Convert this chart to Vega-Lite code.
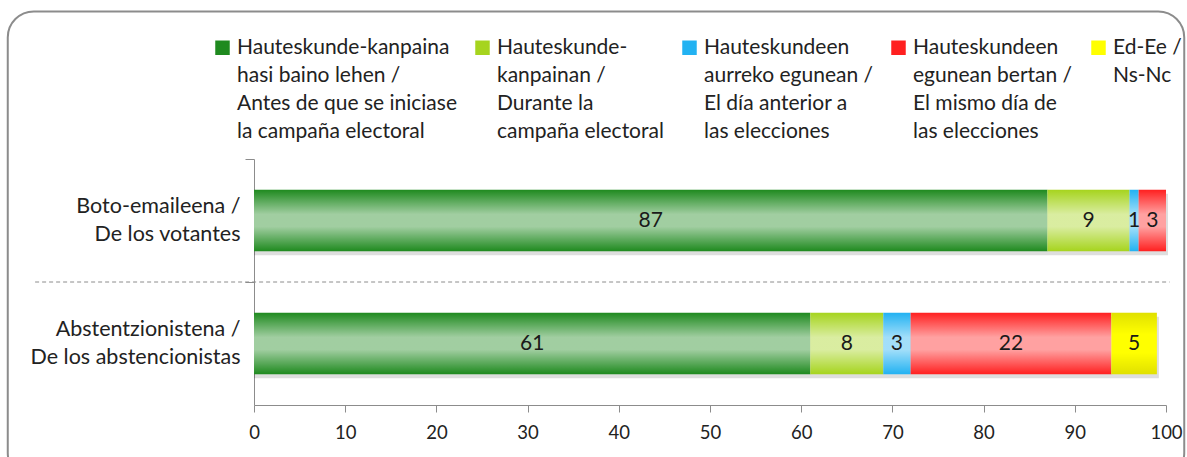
{
  "$schema": "https://vega.github.io/schema/vega-lite/v6.json",
  "width": 912,
  "height": 246,
  "autosize": "none",
  "padding": {"left": 254, "top": 159, "right": 21, "bottom": 52},
  "background": "white",
  "config": {
    "view": {"stroke": null},
    "font": "Lato",
    "style": {"guide-label": {"lineHeight": 28}}
  },
  "resolve": {"scale": {"y": "independent"}},
  "layer": [
    {
      "data": {"values": [{"frame": 1}]},
      "mark": {"type": "rect", "fill": null, "fillOpacity": 0, "stroke": "#8c8c8c", "strokeWidth": 2, "cornerRadius": 26},
      "encoding": {
        "x": {"datum": -27, "type": "quantitative", "scale": {"domain": [0, 100]}},
        "x2": {"datum": 102},
        "y": {"datum": 1.6, "type": "quantitative", "scale": {"domain": [0, 1], "nice": false, "zero": false}, "axis": null},
        "y2": {"datum": -0.3}
      }
    },
    {
      "data": {
        "values": [
          {"group": "Boto-emaileena / De los votantes", "cat": "Hauteskunde-kanpaina hasi baino lehen / Antes de que se iniciase la campaña electoral", "ord": 1, "value": 87},
          {"group": "Boto-emaileena / De los votantes", "cat": "Hauteskunde-kanpainan / Durante la campaña electoral", "ord": 2, "value": 9},
          {"group": "Boto-emaileena / De los votantes", "cat": "Hauteskundeen aurreko egunean / El día anterior a las elecciones", "ord": 3, "value": 1},
          {"group": "Boto-emaileena / De los votantes", "cat": "Hauteskundeen egunean bertan / El mismo día de las elecciones", "ord": 4, "value": 3},
          {"group": "Abstentzionistena / De los abstencionistas", "cat": "Hauteskunde-kanpaina hasi baino lehen / Antes de que se iniciase la campaña electoral", "ord": 1, "value": 61},
          {"group": "Abstentzionistena / De los abstencionistas", "cat": "Hauteskunde-kanpainan / Durante la campaña electoral", "ord": 2, "value": 8},
          {"group": "Abstentzionistena / De los abstencionistas", "cat": "Hauteskundeen aurreko egunean / El día anterior a las elecciones", "ord": 3, "value": 3},
          {"group": "Abstentzionistena / De los abstencionistas", "cat": "Hauteskundeen egunean bertan / El mismo día de las elecciones", "ord": 4, "value": 22},
          {"group": "Abstentzionistena / De los abstencionistas", "cat": "Ed-Ee / Ns-Nc", "ord": 5, "value": 5}
        ]
      },
      "layer": [
        {
          "transform": [{"filter": "datum.ord == 1 && datum.group == 'Boto-emaileena / De los votantes'"}],
          "mark": {"type": "rule", "color": "#8c8c8c", "strokeWidth": 1, "strokeDash": [4, 3], "yOffset": 30.75},
          "encoding": {
            "x": {"datum": -24, "type": "quantitative", "scale": {"domain": [0, 100]}},
            "x2": {"datum": 100.4},
            "y": {"field": "group", "type": "nominal", "bandPosition": 1, "scale": {"domain": ["Boto-emaileena / De los votantes", "Abstentzionistena / De los abstencionistas"], "paddingInner": 0.5, "paddingOuter": 0.25}}
          }
        },
        {
          "mark": {"type": "bar", "color": "#000000", "opacity": 0.13, "yOffset": 4, "xOffset": 2},
          "encoding": {
            "x": {"aggregate": "sum", "field": "value", "type": "quantitative", "scale": {"domain": [0, 100]}},
            "y": {"field": "group", "type": "nominal"}
          }
        },
        {
          "mark": {"type": "bar"},
          "encoding": {
            "x": {"field": "value", "type": "quantitative", "stack": "zero", "scale": {"domain": [0, 100]},
              "axis": {"title": null, "values": [0, 10, 20, 30, 40, 50, 60, 70, 80, 90, 100], "grid": false, "domainColor": "#8c8c8c", "tickColor": "#8c8c8c", "tickSize": 7, "labelFontSize": 18.5, "labelColor": "#222222", "labelPadding": 11, "labelFlush": false}},
            "y": {"field": "group", "type": "nominal",
              "axis": {"title": null, "domainColor": "#8c8c8c", "tickColor": "#8c8c8c", "tickSize": 9, "tickOffset": -61.5, "labelPadding": 5, "labelOffset": 47.5, "labelFontSize": 21.5, "labelColor": "#222222", "labelLimit": 300, "labelLineHeight": 28,
                "labelExpr": "datum.value ? [split(datum.value, ' / ')[0] + ' /', split(datum.value, ' / ')[1]] : ''"}},
            "order": {"field": "ord", "type": "quantitative"},
            "color": {"field": "cat", "type": "nominal",
              "scale": {
                "domain": ["Hauteskunde-kanpaina hasi baino lehen / Antes de que se iniciase la campaña electoral", "Hauteskunde-kanpainan / Durante la campaña electoral", "Hauteskundeen aurreko egunean / El día anterior a las elecciones", "Hauteskundeen egunean bertan / El mismo día de las elecciones", "Ed-Ee / Ns-Nc"],
                "range": ["#1f8a1f", "#a6d41e", "#22b2f2", "#ff2020", "#ffff00"]
              },
              "legend": {
                "title": null, "orient": "none", "legendX": -42, "legendY": -122, "direction": "horizontal", "columns": 5,
                "symbolType": "square", "symbolSize": 210, "symbolStrokeWidth": 0, "labelFontSize": 21, "labelColor": "#222222", "labelLimit": 400, "labelOffset": 4, "columnPadding": 15,
                "labelExpr": "datum.value == 'Hauteskunde-kanpaina hasi baino lehen / Antes de que se iniciase la campaña electoral' ? ['Hauteskunde-kanpaina', 'hasi baino lehen /', 'Antes de que se iniciase', 'la campaña electoral'] : datum.value == 'Hauteskunde-kanpainan / Durante la campaña electoral' ? ['Hauteskunde-', 'kanpainan /', 'Durante la', 'campaña electoral'] : datum.value == 'Hauteskundeen aurreko egunean / El día anterior a las elecciones' ? ['Hauteskundeen', 'aurreko egunean /', 'El día anterior a', 'las elecciones'] : datum.value == 'Hauteskundeen egunean bertan / El mismo día de las elecciones' ? ['Hauteskundeen', 'egunean bertan /', 'El mismo día de', 'las elecciones'] : ['Ed-Ee /', 'Ns-Nc', ' ', ' ']"
              }
            }
          }
        },
        {
          "mark": {"type": "bar"},
          "encoding": {
            "x": {"field": "value", "type": "quantitative", "stack": "zero"},
            "y": {"field": "group", "type": "nominal"},
            "order": {"field": "ord", "type": "quantitative"},
            "detail": {"field": "cat", "type": "nominal"},
            "fill": {
              "condition": {"test": "datum.cat === 'Ed-Ee / Ns-Nc'",
                "value": {"gradient": "linear", "x1": 0, "y1": 0, "x2": 0, "y2": 1, "stops": [{"offset": 0, "color": "rgba(0,0,0,0.12)"}, {"offset": 0.35, "color": "rgba(0,0,0,0)"}, {"offset": 0.65, "color": "rgba(0,0,0,0)"}, {"offset": 1, "color": "rgba(0,0,0,0.12)"}]}},
              "value": {"gradient": "linear", "x1": 0, "y1": 0, "x2": 0, "y2": 1, "stops": [{"offset": 0, "color": "rgba(255,255,255,0)"}, {"offset": 0.4, "color": "rgba(255,255,255,0.58)"}, {"offset": 0.6, "color": "rgba(255,255,255,0.58)"}, {"offset": 1, "color": "rgba(255,255,255,0)"}]}
            }
          }
        },
        {
          "transform": [
            {"stack": "value", "groupby": ["group"], "sort": [{"field": "ord"}], "as": ["v0", "v1"]},
            {"calculate": "(datum.v0 + datum.v1) / 2", "as": "mid"}
          ],
          "mark": {"type": "text", "fontSize": 21, "color": "#1a1a1a"},
          "encoding": {
            "x": {"field": "mid", "type": "quantitative"},
            "y": {"field": "group", "type": "nominal"},
            "text": {"field": "value", "type": "quantitative"}
          }
        }
      ]
    }
  ]
}
